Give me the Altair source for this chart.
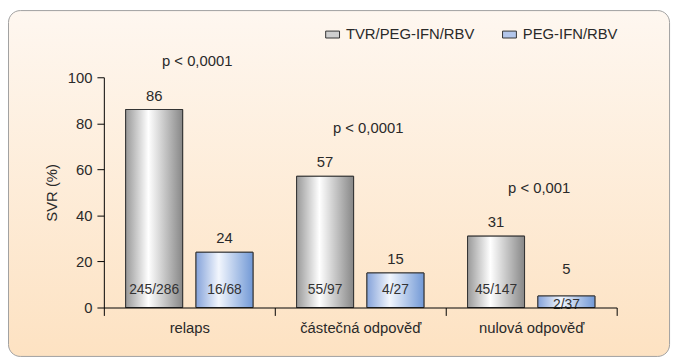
import altair as alt
import pandas as pd

categories = ["relaps", "částečná odpověď", "nulová odpověď"]
series = ["TVR/PEG-IFN/RBV", "PEG-IFN/RBV"]
tvr_values = [86, 57, 31]
peg_values = [24, 15, 5]
tvr_counts = ["245/286", "55/97", "45/147"]
peg_counts = ["16/68", "4/27", "2/37"]
p_labels = ["p < 0,0001", "p < 0,0001", "p < 0,001"]

rows = []
for i, c in enumerate(categories):
    rows.append({"cat": c, "series": series[0], "value": tvr_values[i], "count": tvr_counts[i]})
    rows.append({"cat": c, "series": series[1], "value": peg_values[i], "count": peg_counts[i]})
df = pd.DataFrame(rows)
pdf = pd.DataFrame({
    "cat": categories,
    "p": p_labels,
    "top": [max(a, b) for a, b in zip(tvr_values, peg_values)],
})

FONT = "Liberation Sans"
TXT = "#2a2a2a"


def grad(c1, c2, c3):
    return alt.Gradient(
        gradient="linear",
        stops=[
            alt.GradientStop(color=c1, offset=0),
            alt.GradientStop(color=c2, offset=0.4),
            alt.GradientStop(color=c3, offset=1),
        ],
        x1=0, x2=1, y1=0, y2=0,
    )


gray_grad = grad("#999999", "#ffffff", "#878787")
blue_grad = grad("#85a3da", "#f2f6fd", "#7299d6")
bg_grad = alt.Gradient(
    gradient="linear",
    stops=[
        alt.GradientStop(color="#fef7f0", offset=0),
        alt.GradientStop(color="#fde2c2", offset=1),
    ],
    x1=0, x2=0, y1=0, y2=1,
)

x_enc = alt.X(
    "cat:N",
    sort=categories,
    scale=alt.Scale(domain=categories, paddingInner=0, paddingOuter=0),
    axis=alt.Axis(
        title=None, labelAngle=0, tickBand="extent", tickSize=8,
        labelPadding=5, labelFontSize=15, labelFont=FONT, labelColor=TXT,
        domainColor="#000", tickColor="#000", grid=False, zindex=2,
    ),
)
xo_enc = alt.XOffset(
    "series:N", sort=series,
    scale=alt.Scale(domain=series, paddingInner=0.19, paddingOuter=0.31),
)
y_axis = alt.Axis(
    title="SVR (%)", values=[0, 20, 40, 60, 80, 100], tickSize=7,
    labelPadding=5, labelFontSize=15, labelFont=FONT, labelColor=TXT,
    titleFont=FONT, titleFontSize=15, titleFontWeight="normal", titleColor=TXT,
    titlePadding=8, domainColor="#000", tickColor="#000", grid=False, zindex=2,
)
y_scale = alt.Scale(domain=[0, 100], nice=False)

background = alt.Chart(alt.Data(values=[{"a": 1}])).mark_rect(
    fill=bg_grad, stroke="#a0a0a0", strokeWidth=1, cornerRadius=12
).encode(
    x=alt.value(-96.5), x2=alt.value(572.5),
    y=alt.value(-67.5), y2=alt.value(282.5),
)

base = alt.Chart(df)

legend_bars = base.mark_bar(stroke="#333", strokeWidth=1).encode(
    x=x_enc, xOffset=xo_enc,
    y=alt.Y("value:Q", scale=y_scale, axis=y_axis),
    color=alt.Color(
        "series:N",
        scale=alt.Scale(domain=series, range=["#cfcfcf", "#b3c6ea"]),
        legend=alt.Legend(
            title=None, orient="none", legendX=224, legendY=-51,
            direction="horizontal", symbolType="M-1,-0.5H1V0.5H-1Z",
            symbolSize=196, symbolStrokeColor="#333", symbolStrokeWidth=1,
            labelFont=FONT, labelFontSize=15, labelColor=TXT,
            columnPadding=25, labelOffset=6, padding=0,
        ),
    ),
)

tvr_bars = base.transform_filter(alt.datum.series == series[0]).mark_bar(
    fill=gray_grad, stroke="#333", strokeWidth=1
).encode(x=x_enc, xOffset=xo_enc, y=alt.Y("value:Q", scale=y_scale, axis=y_axis))

peg_bars = base.transform_filter(alt.datum.series == series[1]).mark_bar(
    fill=blue_grad, stroke="#333", strokeWidth=1
).encode(x=x_enc, xOffset=xo_enc, y=alt.Y("value:Q", scale=y_scale, axis=y_axis))

value_labels = base.transform_calculate(
    ly="datum.value < 10 ? datum.value + 5.6 : datum.value"
).mark_text(
    font=FONT, fontSize=15, color=TXT, baseline="middle", dy=-14
).encode(
    x=x_enc, xOffset=xo_enc,
    y=alt.Y("ly:Q", scale=y_scale, axis=y_axis),
    text="value:Q",
)

count_labels = base.transform_calculate(
    iy="datum.value < 10 ? 1.2 : 7.7"
).mark_text(font=FONT, fontSize=14, color="#333", baseline="middle").encode(
    x=x_enc, xOffset=xo_enc,
    y=alt.Y("iy:Q", scale=y_scale, axis=y_axis),
    text="count:N",
)

p_text = alt.Chart(pdf).transform_calculate(
    py="datum.top + 21"
).mark_text(font=FONT, fontSize=15, color=TXT, baseline="middle", dx=8).encode(
    x=x_enc,
    y=alt.Y("py:Q", scale=y_scale, axis=y_axis),
    text="p:N",
)

chart = alt.layer(
    background, legend_bars, tvr_bars, peg_bars, value_labels, count_labels, p_text
).properties(
    width=519, height=233,
    autosize=alt.AutoSizeParams(type="none"),
    padding={"left": 97, "top": 68, "right": 58, "bottom": 51},
    background="white",
).configure_view(strokeWidth=0)

chart.save("out.html", embed_options={"renderer": "svg", "actions": False})
